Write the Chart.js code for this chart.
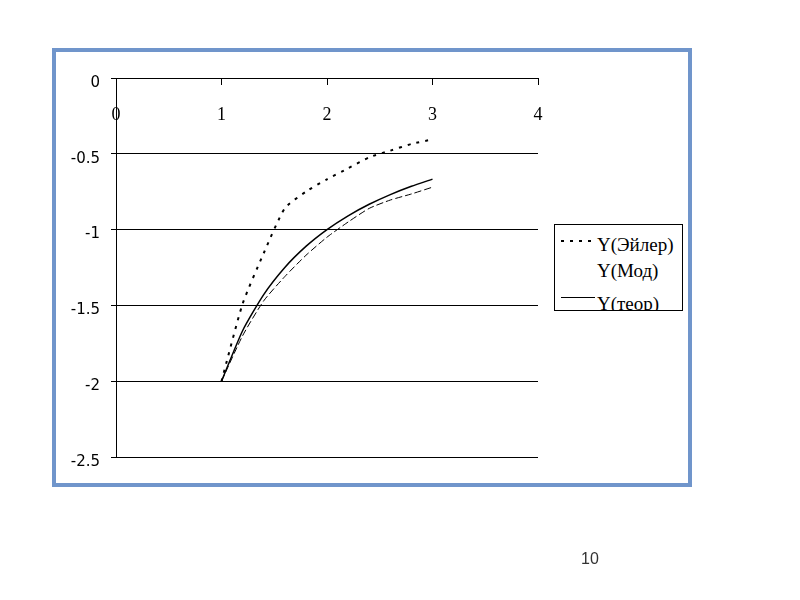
<!DOCTYPE html>
<html>
<head>
<meta charset="utf-8">
<script src="https://cdn.jsdelivr.net/npm/chart.js@4/dist/chart.umd.min.js"></script>
<style>
  html, body { margin: 0; padding: 0; background: #ffffff; }
  body { width: 800px; height: 600px; position: relative; overflow: hidden; }
  #frame { position: absolute; left: 52px; top: 48px; width: 640px; height: 439px; box-sizing: border-box; border: 4px solid #7095cb; background: #ffffff; }
  #wrap { position: absolute; left: 0; top: 0; width: 800px; height: 600px; }
  #legend { position: absolute; left: 554px; top: 224px; width: 129px; height: 87px; box-sizing: border-box; border: 1px solid #000; background: #fff; overflow: hidden; font-family: "Liberation Serif", serif; font-size: 19px; color: #000; }
  .sample { position: absolute; left: 6px; width: 34px; }
  .txt { position: absolute; left: 42px; height: 22px; line-height: 22px; white-space: nowrap; }
  #pagenum { position: absolute; left: 581px; top: 550px; font-family: "Liberation Sans", sans-serif; font-size: 16px; color: #333; }
</style>
</head>
<body>
<div id="frame"></div>
<div id="wrap"><canvas id="c" width="800" height="600"></canvas></div>
<div id="legend"></div>
<div id="pagenum">10</div>
<script>
// ---- data ----
const xValues   = [1, 1.2, 1.4, 1.6, 1.8, 2, 2.2, 2.4, 2.6, 2.8, 3];
const yEuler    = [-2, -1.49, -1.156, -0.86, -0.75, -0.668, -0.596, -0.523, -0.479, -0.435, -0.405];
const yMod      = [-2, -1.70, -1.47, -1.31, -1.17, -1.05, -0.95, -0.86, -0.805, -0.765, -0.72];
const yTheor    = [-2, -1.667, -1.429, -1.25, -1.111, -1, -0.909, -0.833, -0.769, -0.714, -0.667];
const seriesNames = ['Y(Эйлер)', 'Y(Мод)', 'Y(теор)'];
const xTicks = [0, 1, 2, 3, 4];
const yTicks = [0, -0.5, -1, -1.5, -2, -2.5];

const pts = ys => xValues.map((x, i) => ({ x: x, y: ys[i] }));

const ctx = document.getElementById('c').getContext('2d');
const chart = new Chart(ctx, {
  type: 'line',
  data: {
    datasets: [
      { label: seriesNames[0], data: pts(yEuler), borderColor: '#000', borderWidth: 2, borderDash: [3, 6], pointRadius: 0, tension: 0.2, fill: false },
      { label: seriesNames[1], data: pts(yMod), borderColor: '#000', borderWidth: 1, borderDash: [7, 3], pointRadius: 0, tension: 0.2, fill: false },
      { label: seriesNames[2], data: pts(yTheor), borderColor: '#000', borderWidth: 1.5, pointRadius: 0, tension: 0.2, fill: false }
    ]
  },
  options: {
    responsive: false,
    animation: false,
    events: [],
    layout: { padding: { left: 56, top: 78, right: 262, bottom: 143 } },
    plugins: { legend: { display: false }, tooltip: { enabled: false } },
    scales: {
      x: {
        type: 'linear',
        position: { y: 0 },
        min: xTicks[0], max: xTicks[xTicks.length - 1],
        afterBuildTicks: s => { s.ticks = xTicks.map(v => ({ value: v })); },
        grid: { drawOnChartArea: false, drawTicks: true, tickLength: 6, color: '#000', lineWidth: 1 },
        border: { display: true, color: '#000', width: 1 },
        ticks: { color: '#000', padding: 20, maxRotation: 0, font: { family: 'Liberation Serif', size: 18 } }
      },
      y: {
        type: 'linear',
        position: 'left',
        min: yTicks[yTicks.length - 1], max: yTicks[0],
        afterBuildTicks: s => { s.ticks = yTicks.map(v => ({ value: v })); },
        afterFit: s => { s.width = 60; },
        grid: { color: '#000', lineWidth: 1, tickLength: 5, drawTicks: true },
        border: { display: true, color: '#000', width: 1 },
        ticks: {
          color: '#000', padding: 11,
          font: { family: 'DejaVu Sans', size: 15, lineHeight: '10px' },
          callback: v => ['', String(v)]
        }
      }
    }
  }
});

// HTML legend built from the dataset labels
const legend = document.getElementById('legend');
const sampleStyles = [
  'height:2px; background: repeating-linear-gradient(90deg, #000 0 3px, transparent 3px 9px);',
  'height:0;',
  'height:1px; background:#000;'
];
const sampleTops = [15, 0, 72];
const textTops = [9, 35, 68];
seriesNames.forEach((name, i) => {
  const s = document.createElement('div');
  s.className = 'sample';
  s.style.cssText = sampleStyles[i] + 'top:' + sampleTops[i] + 'px;';
  const t = document.createElement('div');
  t.className = 'txt';
  t.style.top = textTops[i] + 'px';
  t.textContent = name;
  legend.appendChild(s); legend.appendChild(t);
});
</script>
</body>
</html>
